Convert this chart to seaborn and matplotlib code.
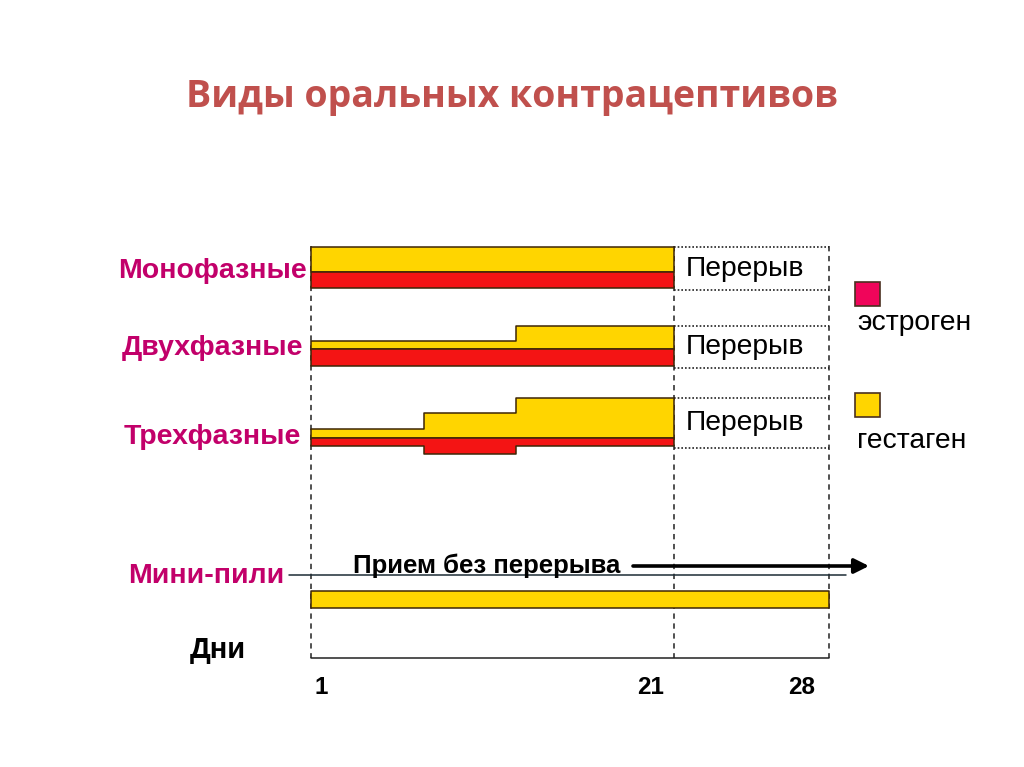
import numpy as np
import matplotlib
matplotlib.use("Agg")
import matplotlib.pyplot as plt
import seaborn as sns
from matplotlib import transforms
from matplotlib.patches import Rectangle

# ---------------- data ----------------
title = "Виды оральных контрацептивов"
regimens = ["Монофазные", "Двухфазные", "Трехфазные"]
minipill_label = "Мини-пили"
days_label = "Дни"
break_label = "Перерыв"
continuous_label = "Прием без перерыва"
legend_labels = ["эстроген", "гестаген"]

# phase boundaries (day) and relative doses per phase
mono_days = [1, 21]
mono_estrogen = [1.0]
mono_gestagen = [1.5]

bi_days = [1, 12.3, 21]
bi_estrogen = [1.0, 1.0]
bi_gestagen = [0.5, 1.4]

tri_days = [1, 7.2, 12.3, 21]
tri_estrogen = [0.5, 1.0, 0.5]
tri_gestagen = [0.5, 1.45, 2.4]

mini_days = [1, 28]
mini_gestagen = [1.0]

day_ticks = [1, 21, 28]
day_tick_labels = ["1", "21", "28"]
break_start, break_end = 21, 28

# ---------------- style ----------------
sns.set_theme(style="white")
plt.rcParams["font.family"] = ["Liberation Sans", "DejaVu Sans"]

W, H = 1024, 767
YELLOW = "#FFD500"
RED = "#F41414"
OUTLINE = "#3d2606"
MAGENTA = "#C2006A"
TITLE_C = "#C0504D"
PINK = "#F0055A"

UNIT = 16.7                      # pixels per dose unit
row_base = [271.7, 349.3, 437.7]  # estrogen/gestagen boundary per row
mini_base = 607.5
line_top, axis_y = 246, 657.5

# piecewise-linear day scale (schematic, break period drawn wider)
PX_LEFT, PX_BREAK, PX_END = 311.0, 674.0, 829.0
k1 = (PX_BREAK - PX_LEFT) / 20.0
k2 = (PX_END - PX_BREAK) / 7.0


def fwd(d):
    d = np.asarray(d, dtype=float)
    return np.where(d <= 21, PX_LEFT + (d - 1) * k1, PX_BREAK + (d - 21) * k2)


def inv(p):
    p = np.asarray(p, dtype=float)
    return np.where(p <= PX_BREAK, 1 + (p - PX_LEFT) / k1, 21 + (p - PX_BREAK) / k2)


fig = plt.figure(figsize=(W / 100, H / 100), dpi=100)
ax = fig.add_axes([0, 0, 1, 1])
ax.set_xscale("function", functions=(fwd, inv))
ax.set_xlim(float(inv(0)), float(inv(W)))
ax.set_ylim(H, 0)
ax.axis("off")

blend = transforms.blended_transform_factory(ax.transAxes, ax.transData)


def offset(px):
    return ax.transData + transforms.ScaledTranslation(px / 100, 0, fig.dpi_scale_trans)


def draw_steps(days, vals, base, sign, color):
    x = np.asarray(days, dtype=float)
    v = np.append(np.asarray(vals, dtype=float), vals[-1])
    y = base + sign * v * UNIT
    ax.fill_between(x, base, y, step="post", facecolor=color,
                    edgecolor=OUTLINE, lw=1.1, zorder=3)


# vertical dashed guide lines
for d in day_ticks:
    ax.plot([d, d], [line_top, axis_y], ls=(0, (3.5, 3)), lw=1.1,
            color="#222222", zorder=1)
# day axis
ax.plot([day_ticks[0], day_ticks[-1]], [axis_y, axis_y], color="#222222",
        lw=1.1, zorder=1)

rows = [
    (mono_days, mono_estrogen, mono_gestagen),
    (bi_days, bi_estrogen, bi_gestagen),
    (tri_days, tri_estrogen, tri_gestagen),
]
for (days, est, ges), base, name in zip(rows, row_base, regimens):
    draw_steps(days, ges, base, -1, YELLOW)
    draw_steps(days, est, base, +1, RED)
    top = base - ges[-1] * UNIT
    bottom = base + est[-1] * UNIT + 2
    for yy in (top, bottom):
        ax.plot([break_start, break_end], [yy, yy], ls=(0, (1, 1.2)),
                lw=1.2, color="#222222", zorder=2)
    ax.text(break_start, (top + bottom) / 2, break_label, fontsize=20.3,
            color="black", ha="left", va="center", transform=offset(12))
    ax.text(212 / W, base - 1, name, transform=blend, fontsize=20.5,
            fontweight="bold", color=MAGENTA, ha="center", va="center")

# mini-pill
draw_steps(mini_days, mini_gestagen, mini_base, -1, YELLOW)
ax.text(206 / W, 576, minipill_label, transform=blend, fontsize=20.5,
        fontweight="bold", color=MAGENTA, ha="center", va="center")
ax.plot([float(inv(289)), float(inv(846))], [574.5, 574.5], color="#1c2c36",
        lw=1.1, zorder=2)
ax.text(353 / W, 573.5, continuous_label, transform=blend, fontsize=18.5,
        fontweight="bold", color="black", ha="left", va="baseline", zorder=4)
ax.annotate("", xy=(float(inv(869)), 566), xytext=(float(inv(633)), 566),
            arrowprops=dict(arrowstyle="-|>", lw=2.6, color="black",
                            mutation_scale=22, shrinkA=0, shrinkB=0))

# day labels
tick_offsets = [10, -23, -27]
for d, lab, off in zip(day_ticks, day_tick_labels, tick_offsets):
    ax.text(d, 687, lab, fontsize=17.5, fontweight="bold", color="black",
            ha="center", va="center", transform=offset(off))
ax.text(218 / W, 650, days_label, transform=blend, fontsize=21,
        fontweight="bold", color="black", ha="center", va="center")

# legend
for (ytop, ytext), col, lab in zip([(282, 323), (393, 441)], [PINK, YELLOW], legend_labels):
    ax.add_patch(Rectangle((855 / W, ytop), 25 / W, 24, transform=blend,
                           facecolor=col, edgecolor="#4a3020", lw=1.2, zorder=3))
    ax.text(857 / W, ytext, lab, transform=blend, fontsize=20.3,
            color="black", ha="left", va="center")

# title
ax.text(0.5, 97, title, transform=blend, fontsize=27, fontweight="bold",
        color=TITLE_C, ha="center", va="center",
        family=["Open Sans", "DejaVu Sans"])

fig.savefig("out.png", dpi=100, facecolor="white")
